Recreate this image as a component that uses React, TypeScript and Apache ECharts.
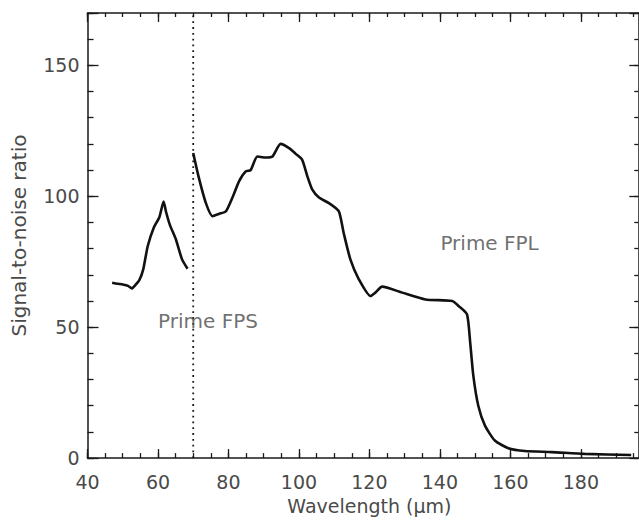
import React, { useEffect, useRef } from "react";
import * as echarts from "echarts";

// Left segment (Prime FPS band)
const fpsWavelength = [47, 48.5, 50, 51.5, 52.6, 53.5, 54.7, 55.8, 57.1, 58.8, 60.4, 61.6, 62.3, 63.4, 65.1, 66.8, 68.4];
const fpsSnr = [67, 66.6, 66.3, 65.8, 64.8, 66, 68, 72, 81, 88, 92, 98, 94, 89, 83.5, 76, 72.3];

// Right segment (Prime FPL band)
const fplWavelength = [70, 71.5, 73.6, 75.5, 77.4, 79.3, 81.1, 83, 84.9, 86.3, 88.2, 90.6, 92.5, 94.8, 97.2, 99.1, 100.9, 102.4, 103.8, 105.7, 108.5, 111.3, 112.7, 114.6, 117, 120.3, 121.7, 123.6, 129.3, 135.9, 143.5, 145.3, 147.7, 148.6, 149.5, 150.9, 152.8, 155.6, 159.4, 164.1, 171.7, 181.1, 194.3];
const fplSnr = [116.5, 107.6, 97.4, 92.4, 93.3, 94.3, 99.4, 105.7, 109.5, 110, 115.2, 114.8, 115.2, 120, 118.4, 116.2, 114, 107.6, 102.5, 99.5, 97.4, 94.3, 86, 75.9, 68.3, 61.9, 63.2, 65.5, 63.2, 60.6, 60, 58.1, 54.9, 44.2, 31.4, 20, 12.4, 6.7, 3.8, 2.7, 2.3, 1.6, 1.2];

// Dotted divider
const dividerX = [70, 70];
const dividerY = [0, 170];

// Annotations
const annotationText = ["Prime FPS", "Prime FPL"];
const annotationX = [74.2, 154.1];
const annotationY = [52.4, 82];

const xMin = 40;
const xMax = 200;
const yMin = 0;
const yMax = 170;

const FONT = "DejaVu Sans";
const TEXT = "#4a4a4a";
const LINE = "#1a1a1a";

export default function App() {
  const ref = useRef<HTMLDivElement>(null);
  useEffect(() => {
    if (!ref.current) return;
    const chart = echarts.init(ref.current, null, { renderer: "svg" });

    const baseX = (position: string, interval: number, tickLen: number, showLine: boolean, labels: boolean) => ({
      type: "value",
      position,
      min: xMin,
      max: xMax,
      interval,
      axisLine: { show: showLine, onZero: false, lineStyle: { color: LINE, width: 1.5 } },
      axisTick: { show: true, inside: true, length: tickLen, lineStyle: { color: LINE, width: 1.3 } },
      axisLabel: labels
        ? {
            show: true,
            margin: 14,
            color: TEXT,
            fontFamily: FONT,
            fontSize: 19,
            showMaxLabel: false,
            formatter: (v: number) => (v % 20 === 0 && v < xMax ? String(v) : ""),
          }
        : { show: false },
      splitLine: { show: false },
    });

    const baseY = (position: string, interval: number, tickLen: number, showLine: boolean, labels: boolean, offset: number) => ({
      type: "value",
      position,
      offset,
      min: yMin,
      max: yMax,
      interval,
      axisLine: { show: showLine, onZero: false, lineStyle: { color: LINE, width: 1.5 } },
      axisTick: { show: true, inside: true, length: tickLen, lineStyle: { color: LINE, width: 1.3 } },
      axisLabel: labels
        ? {
            show: true,
            margin: 8,
            color: TEXT,
            fontFamily: FONT,
            fontSize: 19,
            formatter: (v: number) => (v % 50 === 0 ? String(v) : ""),
          }
        : { show: false },
      splitLine: { show: false },
    });

    const xAxes: any[] = [
      {
        ...baseX("bottom", 5, 5, true, true),
        name: "Wavelength (μm)",
        nameLocation: "middle",
        nameGap: 31,
        nameTextStyle: { color: TEXT, fontFamily: FONT, fontSize: 19 },
      },
      baseX("bottom", 20, 9, false, false),
      baseX("top", 5, 4, true, false),
      baseX("top", 20, 9, false, false),
    ];
    const yAxes: any[] = [
      {
        ...baseY("left", 10, 6, true, true, 0),
        name: "Signal-to-noise ratio",
        nameLocation: "middle",
        nameGap: 59,
        nameTextStyle: { color: TEXT, fontFamily: FONT, fontSize: 20 },
      },
      baseY("left", 50, 11, false, false, 0),
      baseY("right", 10, 4, true, false, -13),
      baseY("right", 50, 9, false, false, -13),
    ];

    chart.setOption({
      animation: false,
      backgroundColor: "#ffffff",
      grid: { left: 87.5, top: 13, bottom: 61, right: 0.7, containLabel: false },
      xAxis: xAxes,
      yAxis: yAxes,
      series: [
        {
          type: "line",
          xAxisIndex: 0,
          yAxisIndex: 0,
          data: dividerX.map((x, i) => [x, dividerY[i]]),
          symbol: "none",
          lineStyle: { color: LINE, width: 1.8, type: [1.8, 4] },
          z: 1,
        },
        {
          type: "line",
          xAxisIndex: 0,
          yAxisIndex: 0,
          data: fpsWavelength.map((x, i) => [x, fpsSnr[i]]),
          symbol: "none",
          smooth: 0.2,
          lineStyle: { color: "#111111", width: 2.6 },
          z: 3,
        },
        {
          type: "line",
          xAxisIndex: 0,
          yAxisIndex: 0,
          data: fplWavelength.map((x, i) => [x, fplSnr[i]]),
          symbol: "none",
          smooth: 0.2,
          lineStyle: { color: "#111111", width: 2.6 },
          z: 3,
        },
        {
          type: "scatter",
          xAxisIndex: 0,
          yAxisIndex: 0,
          symbolSize: 0,
          data: annotationText.map((t, i) => ({ value: [annotationX[i], annotationY[i]], name: t })),
          label: {
            show: true,
            position: "inside",
            formatter: (p: any) => p.name,
            color: TEXT,
            fontFamily: FONT,
            fontSize: 20,
          },
          z: 4,
        },
      ],
    });
    return () => chart.dispose();
  }, []);
  return (
    <div style={{ position: "absolute", left: 0, top: 0, width: 639, height: 520, overflow: "hidden" }}>
      <div ref={ref} style={{ width: 652, height: 520 }} />
    </div>
  );
}
